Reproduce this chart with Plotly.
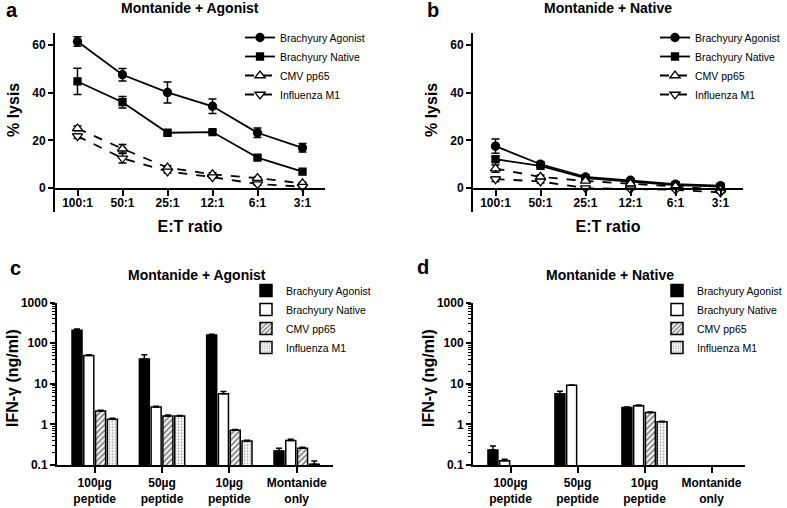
import plotly.graph_objects as go

# ---------------- data ----------------
ratios = ["100:1", "50:1", "25:1", "12:1", "6:1", "3:1"]

a_agonist = [61.4, 47.5, 40.1, 34.3, 23.2, 16.9]
a_agonist_err = [2.0, 2.6, 4.4, 3.0, 2.0, 1.8]
a_native = [44.7, 36.0, 23.2, 23.5, 12.8, 6.9]
a_native_err = [5.5, 2.4, 0.8, 0.6, 0.8, 0.8]
a_cmv = [25.0, 16.5, 8.6, 5.8, 4.2, 2.0]
a_cmv_err = [1.0, 1.8, 0.8, 0.6, 0.5, 0.5]
a_flu = [21.8, 12.5, 7.0, 4.6, 1.7, 0.6]
a_flu_err = [1.0, 2.0, 0.7, 0.5, 0.5, 0.3]

b_agonist = [17.6, 10.0, 4.7, 3.3, 1.7, 1.0]
b_agonist_err = [3.0, 1.2, 0.6, 0.5, 0.5, 0.4]
b_native = [12.1, 9.3, 4.2, 2.6, 1.25, 0.6]
b_native_err = [1.0, 0.8, 0.4, 0.3, 0.3, 0.3]
b_cmv = [8.2, 4.7, 3.0, 1.9, 0.7, -0.7]
b_cmv_err = [1.5, 0.8, 0.4, 0.3, 0.3, 0.3]
b_flu = [3.8, 2.8, 0.0, -0.4, -0.7, -1.8]
b_flu_err = [1.0, 0.6, 0.3, 0.3, 0.3, 0.3]

doses = ["100µg<br>peptide", "50µg<br>peptide", "10µg<br>peptide", "Montanide<br>only"]

c_agonist = [210, 41, 160, 0.22]
c_agonist_err = [15, 11, 8, 0.04]
c_native = [50, 2.7, 5.7, 0.40]
c_native_err = [2, 0.1, 0.8, 0.03]
c_cmv = [2.15, 1.62, 0.72, 0.26]
c_cmv_err = [0.1, 0.08, 0.03, 0.015]
c_flu = [1.34, 1.62, 0.39, 0.105]
c_flu_err = [0.08, 0.05, 0.02, 0.02]

d_agonist = [0.235, 5.7, 2.6, None]
d_agonist_err = [0.06, 0.9, 0.1, 0]
d_native = [0.128, 9.2, 2.9, None]
d_native_err = [0.01, 0.2, 0.1, 0]
d_cmv = [None, None, 1.96, None]
d_cmv_err = [0, 0, 0.05, 0]
d_flu = [None, None, 1.16, None]
d_flu_err = [0, 0, 0.04, 0]

series_names = ["Brachyury Agonist", "Brachyury Native", "CMV pp65", "Influenza M1"]

# ---------------- figure ----------------
W, H = 787, 508
FONT = "Arial, Liberation Sans, sans-serif"
fig = go.Figure()

line_styles = [
    dict(symbol="circle", color="black", dash="solid", size=8),
    dict(symbol="square", color="black", dash="solid", size=7),
    dict(symbol="triangle-up", color="white", dash="dash", size=9),
    dict(symbol="triangle-down", color="white", dash="dash", size=9),
]

def add_lines(vals, errs, xa, ya, legend):
    for name, v, e, st in zip(series_names, vals, errs, line_styles):
        fig.add_trace(go.Scatter(
            x=ratios, y=v, name=name, mode="lines+markers",
            xaxis=xa, yaxis=ya, legend=legend,
            line=dict(color="black", width=1.8, dash=st["dash"]),
            marker=dict(symbol=st["symbol"], size=st["size"], color=st["color"],
                        line=dict(color="black", width=1.3)),
            error_y=dict(type="data", array=e, color="black", thickness=1.5, width=4),
        ))

add_lines([a_agonist, a_native, a_cmv, a_flu],
          [a_agonist_err, a_native_err, a_cmv_err, a_flu_err], "x", "y", "legend")
add_lines([b_agonist, b_native, b_cmv, b_flu],
          [b_agonist_err, b_native_err, b_cmv_err, b_flu_err], "x2", "y2", "legend2")

bar_styles = [
    dict(color="black", pattern=dict(shape="")),
    dict(color="white", pattern=dict(shape="")),
    dict(color="white", pattern=dict(shape="/", fgcolor="#111111", size=4, solidity=0.5)),
    dict(color="white", pattern=dict(shape=".", fgcolor="#555555", size=3, solidity=0.35)),
]

def add_bars(vals, errs, xa, ya, legend):
    for name, v, e, st in zip(series_names, vals, errs, bar_styles):
        fig.add_trace(go.Bar(
            x=doses, y=v, name=name, xaxis=xa, yaxis=ya, legend=legend,
            marker=dict(color=st["color"], pattern=st["pattern"],
                        line=dict(color="black", width=1.5)),
            error_y=dict(type="data", array=e, arrayminus=[0] * len(e), symmetric=False,
                         color="black", thickness=1.5, width=3),
        ))

add_bars([c_agonist, c_native, c_cmv, c_flu],
         [c_agonist_err, c_native_err, c_cmv_err, c_flu_err], "x3", "y3", "legend3")
add_bars([d_agonist, d_native, d_cmv, d_flu],
         [d_agonist_err, d_native_err, d_cmv_err, d_flu_err], "x4", "y4", "legend4")

def px_x(p):
    return p / W

def px_y(p):
    return 1 - p / H

tickfont = dict(family=FONT, size=12, color="black", weight="bold")
titlefont = dict(family=FONT, size=16, color="black", weight="bold")

common_x = dict(showline=True, linewidth=2, linecolor="black", ticks="outside",
                ticklen=6, tickwidth=2, tickcolor="black", tickfont=tickfont,
                showgrid=False, zeroline=False, automargin=False)
common_y = dict(showline=True, linewidth=2, linecolor="black", ticks="outside",
                ticklen=5, tickwidth=2, tickcolor="black", tickfont=tickfont,
                showgrid=False, zeroline=False, automargin=False)

minor_log = dict(ticks="outside", ticklen=3, tickwidth=1, tickcolor="black", dtick="D1")

top_lin, bot_lin = 33, 212
zero_px = 189
fig.update_layout(
    xaxis=dict(domain=[px_x(55), px_x(325)], range=[-0.5, 5.5], type="category",
               anchor="free", position=px_y(zero_px), ticklabelstandoff=-3,
               title=dict(text="E:T ratio", font=titlefont, standoff=10), **common_x),
    yaxis=dict(domain=[px_y(bot_lin), px_y(top_lin)], range=[-10, 65],
               tickvals=[0, 20, 40, 60], anchor="x", **common_y),
    xaxis2=dict(domain=[px_x(473), px_x(743)], range=[-0.5, 5.5], type="category",
                anchor="free", position=px_y(zero_px), ticklabelstandoff=-3,
                title=dict(text="E:T ratio", font=titlefont, standoff=10), **common_x),
    yaxis2=dict(domain=[px_y(bot_lin), px_y(top_lin)], range=[-10, 65],
                tickvals=[0, 20, 40, 60], anchor="x2", **common_y),
    xaxis3=dict(domain=[px_x(57), px_x(333)], range=[-0.56, 3.54], type="category",
                anchor="y3", **common_x),
    yaxis3=dict(domain=[px_y(465), px_y(302.7)], type="log", range=[-1, 3],
                dtick=1, exponentformat="none", anchor="x3", minor=minor_log, **common_y),
    xaxis4=dict(domain=[px_x(473), px_x(745)], range=[-0.56, 3.5], type="category",
                anchor="y4", **common_x),
    yaxis4=dict(domain=[px_y(465), px_y(302.7)], type="log", range=[-1, 3],
                dtick=1, exponentformat="none", anchor="x4", minor=minor_log, **common_y),
    barmode="group", bargap=0.3, bargroupgap=0.15,
    width=W, height=H, margin=dict(l=0, r=0, t=0, b=0),
    paper_bgcolor="white", plot_bgcolor="white",
    font=dict(family=FONT, color="black"),
)

legend_common = dict(bgcolor="rgba(0,0,0,0)", font=dict(family=FONT, size=10.5, color="black"),
                     xanchor="left", yanchor="top", tracegroupgap=0, itemwidth=30)
fig.update_layout(
    legend=dict(x=px_x(240), y=px_y(23), **legend_common),
    legend2=dict(x=px_x(655), y=px_y(23), **legend_common),
    legend3=dict(x=px_x(246), y=px_y(276), **legend_common),
    legend4=dict(x=px_x(657), y=px_y(276), **legend_common),
)

# panel letters
for t, x, y in [("a", 12, 10), ("b", 433, 10), ("c", 15, 268), ("d", 423, 267)]:
    fig.add_annotation(text=t, x=px_x(x), y=px_y(y), xref="paper", yref="paper",
                       xanchor="center", yanchor="middle", showarrow=False,
                       font=dict(family=FONT, size=20, weight="bold"))

# panel titles
for t, x, y in [("Montanide + Agonist", 190, 8), ("Montanide + Native", 608, 8),
                ("Montanide + Agonist", 197, 275), ("Montanide + Native", 610, 275)]:
    fig.add_annotation(text=t, x=px_x(x), y=px_y(y), xref="paper", yref="paper",
                       xanchor="center", yanchor="middle", showarrow=False,
                       font=dict(family=FONT, size=14, weight="bold"))

# y-axis titles (rotated)
for t, x, y in [("% lysis", 13, 110), ("% lysis", 431, 110),
                ("IFN-γ (ng/ml)", 12, 378), ("IFN-γ (ng/ml)", 428, 378)]:
    fig.add_annotation(text=t, x=px_x(x), y=px_y(y), xref="paper", yref="paper",
                       xanchor="center", yanchor="middle", textangle=-90, showarrow=False,
                       font=titlefont)

# the page's default 8px body margin would shift the 787x508 figure; remove it
fig.write_html("out.html", config={"displayModeBar": False},
               post_script="document.body.style.margin='0px';")
